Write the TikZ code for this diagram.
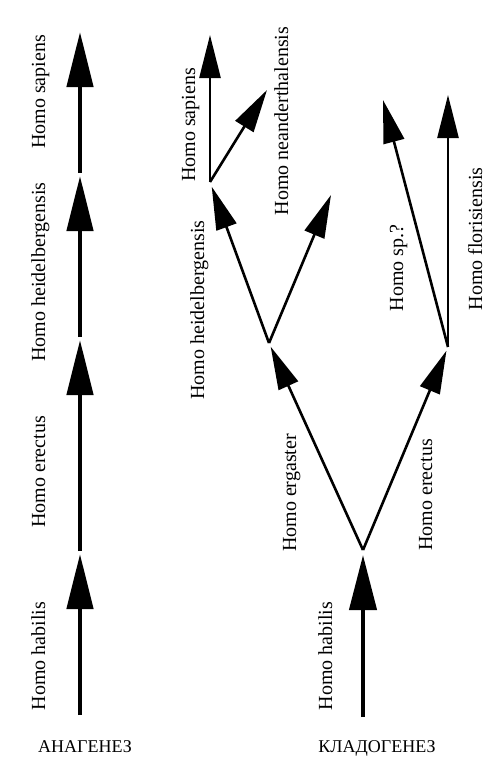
\documentclass[tikz,border=0pt]{standalone}
\usepackage{fontspec}
\setmainfont{Liberation Serif}
\usetikzlibrary{arrows.meta}
\newcommand{\hlab}[1]{\fontsize{20}{24}\selectfont{Homo #1}}
\newcommand{\clab}[1]{\fontsize{18}{22}\selectfont{#1}}

\begin{document}
\begin{tikzpicture}[x=1pt,y=1pt,every node/.style={inner sep=0pt},
   lab/.style={rotate=90,anchor=base},
   big/.style={draw=black,line width=4.5pt,-{Triangle[length=55pt,width=26pt]}},
   small/.style={draw=black,line width=2.6pt,-{Triangle[length=43pt,width=21pt]}}]
 \useasboundingbox (0,0) rectangle (500,-771);

 % anagenesis
 \coordinate (A0) at (80,-715);
 \coordinate (A1) at (80,-554);
 \coordinate (A2) at (80,-340);
 \coordinate (A3) at (80,-176);
 \coordinate (A4) at (80,-32);

 \draw[big] (A0) -- (A1);
 \draw[big,shorten <=3pt] (A1) -- (A2);
 \draw[big,shorten <=3pt] (A2) -- (A3);
 \draw[big,shorten <=3pt] (A3) -- (A4);

 \draw (45,-656) node[lab] (Lhab) {\hlab{habilis}};
 \draw (45,-472) node[lab] (Lere) {\hlab{erectus}};
 \draw (45,-272) node[lab] (Lhei) {\hlab{heidelbergensis}};
 \draw (45,-92)  node[lab] (Lsap) {\hlab{sapiens}};
 \draw (85,-752) node[anchor=base] (Lcap) {\clab{АНАГЕНЕЗ}};

 % cladogenesis
 \coordinate (C0) at (363,-717);
 \coordinate (B1) at (363,-550);
 \coordinate (B2) at (269,-343);
 \coordinate (B3) at (210,-182);
 \coordinate (B4) at (448,-347);
 \coordinate (T1) at (331,-195);
 \coordinate (T2) at (210,-35);
 \coordinate (T3) at (267,-90);
 \coordinate (T4) at (448,-95);
 \coordinate (T5) at (383,-100);

 \draw[big,line width=4.3pt,-{Triangle[length=55pt,width=27pt]},shorten >=5pt] (C0) -- (B1);
 \draw[small,shorten >=4pt] (B1) -- (B2);
 \draw[small,shorten >=4pt] (B1) -- (B4);
 \draw[small,shorten >=5pt] (B2) -- (B3);
 \draw[small] (B2) -- (T1);
 \draw[small] (B3) -- (T2);
 \draw[small] (B3) -- (T3);
 \draw[small] (B4) -- (T4);
 \draw[small] (B4) -- (T5);

 \draw (332,-656) node[lab] (Rhab) {\hlab{habilis}};
 \draw (296,-493) node[lab] (Rerg) {\hlab{ergaster}};
 \draw (432,-495) node[lab] (Rere) {\hlab{erectus}};
 \draw (204,-310) node[lab] (Rhei) {\hlab{heidelbergensis}};
 \draw (195,-125) node[lab] (Rsap) {\hlab{sapiens}};
 \draw (288,-121) node[lab] (Rnea) {\hlab{neanderthalensis}};
 \draw (403,-268) node[lab] (Rspq) {\hlab{sp.?}};
 \draw (482,-239) node[lab] (Rflo) {\hlab{florisiensis}};
 \draw (377,-752) node[anchor=base] (Rcap) {\clab{КЛАДОГЕНЕЗ}};

\end{tikzpicture}
\end{document}
